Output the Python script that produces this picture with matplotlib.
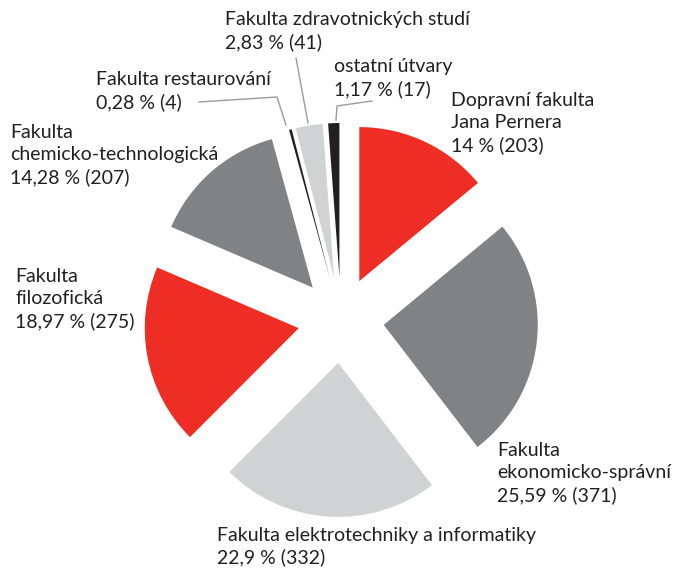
import matplotlib
matplotlib.use("Agg")
import matplotlib.pyplot as plt

# Daten: Anzahl je Fakulta, im Uhrzeigersinn ab 12 Uhr
fakulty = ["Dopravní fakulta\nJana Pernera",
           "Fakulta\nekonomicko-správní",
           "Fakulta elektrotechniky a informatiky",
           "Fakulta\nfilozofická",
           "Fakulta\nchemicko-technologická",
           "Fakulta restaurování",
           "Fakulta zdravotnických studí",
           "ostatní útvary"]
pocty = [203, 371, 332, 275, 207, 4, 41, 17]
barvy = ["#ee2e24", "#818285", "#d1d2d4", "#ee2e24", "#818285",
         "#231f20", "#d1d2d4", "#231f20"]

# Layout in Pixeln des Originalbildes
W, H = 674, 570
CX, CY, R = 341, 320, 154
EXPLODE = 43

# Textpositionen (links, Mitte des Blocks)
pozice = [(451, 123), (497, 473), (217, 546.5), (15, 299), (10, 155),
          (96, 91), (225, 30.75), (334, 78)]
# Hinweislinien fuer die kleinen Segmente
vodici = {5: [(199, 102), (277, 97), (286, 125)],
          6: [(296, 58), (308, 123)],
          7: [(372, 101), (337, 106), (336, 120)]}


def px(x, y):
    return (x - CX) / R, (CY - y) / R


fig = plt.figure(figsize=(W / 100, H / 100), dpi=100)
ax = fig.add_axes([0, 0, 1, 1])
ax.pie(pocty, colors=barvy, startangle=90, counterclock=False,
       explode=[EXPLODE / R] * len(pocty), radius=1, center=(0, 0),
       wedgeprops=dict(linewidth=0))
ax.set_aspect("auto")
ax.set_xlim(-CX / R, (W - CX) / R)
ax.set_ylim((CY - H) / R, CY / R)
ax.axis("off")

celkem = sum(pocty)
for i, (nazev, n) in enumerate(zip(fakulty, pocty)):
    p = f"{100 * n / celkem:.2f}".rstrip("0").rstrip(".").replace(".", ",")
    x, y = px(*pozice[i])
    ax.text(x, y, f"{nazev}\n{p} % ({n})", ha="left", va="center",
            fontsize=14, family="Lato", color="#231f20", linespacing=1.33)

for body in vodici.values():
    xs, ys = zip(*[px(*b) for b in body])
    ax.plot(xs, ys, color="#9a9b9d", linewidth=1.0)

fig.savefig("out.png", dpi=100)
